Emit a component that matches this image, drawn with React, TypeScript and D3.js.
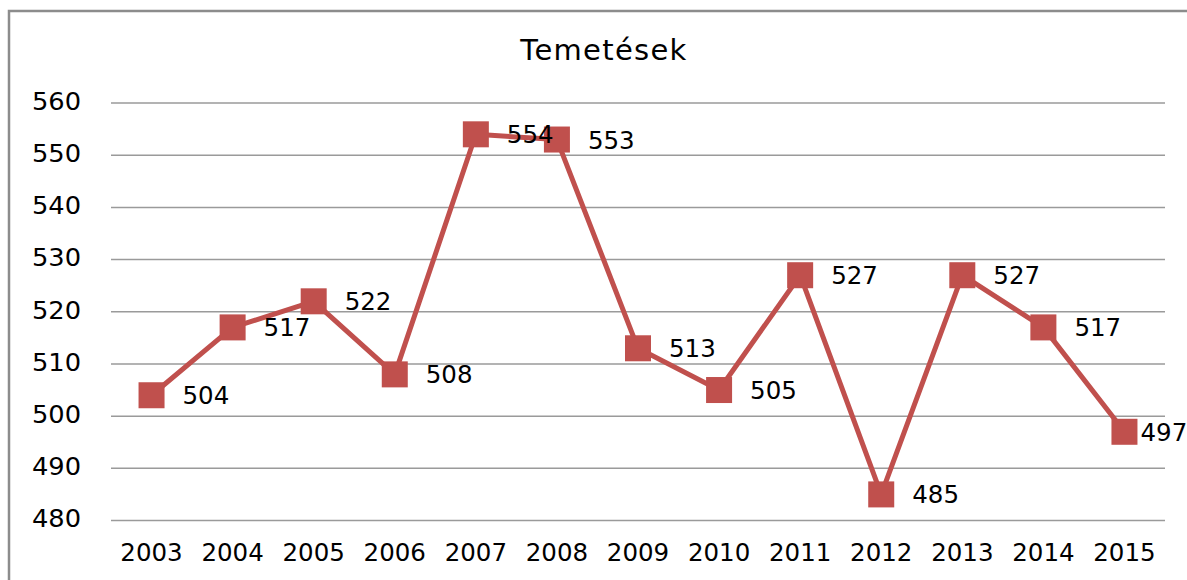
import React from 'react';
import { scaleBand, scaleLinear, line } from 'd3';

const years = ['2003', '2004', '2005', '2006', '2007', '2008', '2009', '2010', '2011', '2012', '2013', '2014', '2015'];
const burials = [504, 517, 522, 508, 554, 553, 513, 505, 527, 485, 527, 517, 497];
const yTicks = [480, 490, 500, 510, 520, 530, 540, 550, 560];
const title = 'Temetések';

const W = 1187;
const H = 580;
const margin = { top: 103, right: 22, bottom: 60, left: 111 };
const font = '"DejaVu Sans", Verdana, sans-serif';
const red = '#C0504D';

export default function App() {
	const w = W - margin.left - margin.right;
	const h = H - margin.top - margin.bottom;

	const x = scaleBand<string>().domain(years).range([0, w]);
	const y = scaleLinear().domain([480, 560]).range([h + 0.5, 0]);

	const cx = (i: number) => (x(years[i]) as number) + x.bandwidth() / 2;

	const lineFn = line<number>()
		.x((d, i) => cx(i))
		.y((d) => y(d));

	return (
		<svg width={W} height={H} style={{ position: 'absolute', left: 0, top: 0, background: '#fff' }}>
			{/* chart frame, open to the right and bottom */}
			<rect x={9} y={11} width={W + 20} height={H + 20} fill="#fff" stroke="#8c8c8c" strokeWidth={2.5} />

			<text x={604} y={52} textAnchor="middle" dominantBaseline="middle"
				fontFamily={font} fontSize={29} fill="#000" letterSpacing={1.3}>
				{title}
			</text>

			<g transform={'translate(' + margin.left + ',' + margin.top + ')'}>
				{yTicks.map((t) => (
					<g key={t}>
						<line x1={0} x2={w} y1={y(t)} y2={y(t)} stroke="#9a9a9a" strokeWidth={1.5} />
						<text x={-30} y={y(t)} textAnchor="end" dominantBaseline="middle"
							fontFamily={font} fontSize={24.5} fill="#000"
							transform={'translate(' + (-30) + ',' + y(t) + ') scale(1.05,1) translate(' + 30 + ',' + (-y(t)) + ')'}>
							{t}
						</text>
					</g>
				))}

				{years.map((yr, i) => (
					<text key={yr} x={cx(i)} y={h + 34} textAnchor="middle" dominantBaseline="middle"
						fontFamily={font} fontSize={24.5} fill="#000">
						{yr}
					</text>
				))}

				<path d={lineFn(burials) || ''} fill="none" stroke={red} strokeWidth={5} strokeLinejoin="round" />

				{burials.map((v, i) => (
					<rect key={i} x={cx(i) - 13} y={y(v) - 13} width={26} height={26} fill={red} />
				))}

				{burials.map((v, i) => (
					<text key={'l' + i} x={cx(i) + (i === burials.length - 1 ? 16 : 31)} y={y(v) + 2}
						dominantBaseline="middle" fontFamily={font} fontSize={24.5} fill="#000">
						{v}
					</text>
				))}
			</g>
		</svg>
	);
}
